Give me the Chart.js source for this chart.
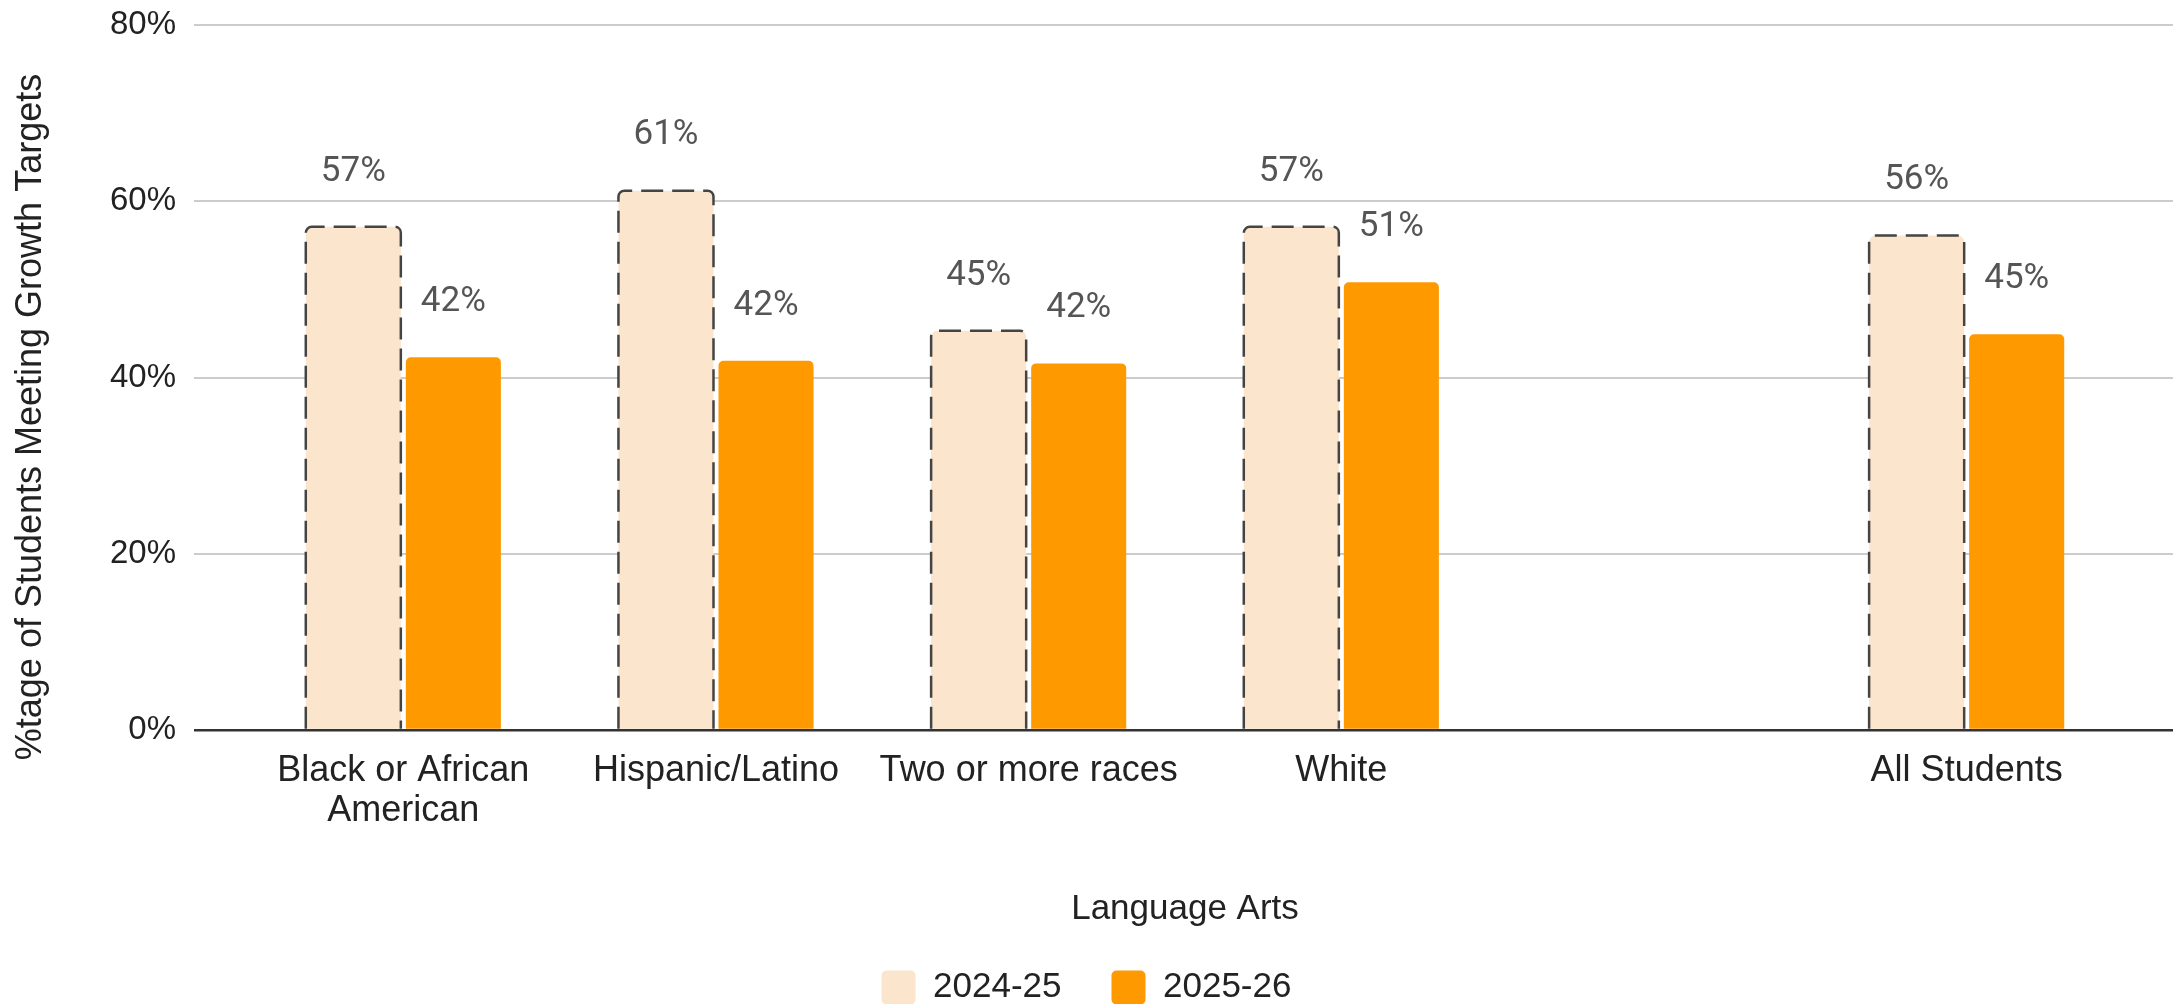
<!DOCTYPE html>
<html>
<head>
<meta charset="utf-8">
<script src="https://cdn.jsdelivr.net/npm/chart.js@4.4.1/dist/chart.umd.min.js"></script>
<style>
  html, body { margin: 0; padding: 0; background: #ffffff; }
  #wrap { width: 2173px; height: 1004px; position: relative; }
</style>
</head>
<body>
<div id="wrap"><canvas id="myChart"></canvas></div>
<script>
  const categories = [["Black or African", "American"], "Hispanic/Latino", "Two or more races", "White", "", "All Students"];
  const seriesNames = ["2024-25", "2025-26"];
  const values2425 = [57.1, 61.2, 45.3, 57.1, null, 56.1];
  const values2526 = [42.3, 41.9, 41.6, 50.8, null, 44.9];
  const yTicks = [0, 20, 40, 60, 80];
  const xTitle = "Language Arts";
  const yTitle = "%tage of Students Meeting Growth Targets";

  const lightOrange = "#fce5cd";
  const orange = "#ff9900";
  const sans = "'Liberation Sans', Arial, sans-serif";

  // dashed outline round the 2024-25 bars (bar elements can't dash their border)
  const dashedBars = {
    id: "dashedBars",
    afterDatasetsDraw(chart) {
      const ctx = chart.ctx;
      const meta = chart.getDatasetMeta(0);
      ctx.save();
      ctx.strokeStyle = "#444444";
      ctx.lineWidth = 2.5;
      ctx.setLineDash([22, 9]);
      meta.data.forEach((bar, i) => {
        if (values2425[i] == null) return;
        const { x, y, base, width } = bar.getProps(["x", "y", "base", "width"], true);
        const left = x - width / 2;
        const right = x + width / 2;
        const r = 6;
        ctx.beginPath();
        ctx.moveTo(left, base);
        ctx.lineTo(left, y + r);
        ctx.arcTo(left, y, left + r, y, r);
        ctx.lineTo(right - r, y);
        ctx.arcTo(right, y, right, y + r, r);
        ctx.lineTo(right, base);
        ctx.stroke();
      });
      ctx.restore();
    },
  };

  // value labels above each bar
  const barLabels = {
    id: "barLabels",
    afterDatasetsDraw(chart) {
      const ctx = chart.ctx;
      ctx.save();
      ctx.font = "35px Roboto, sans-serif";
      ctx.fillStyle = "#555555";
      ctx.textAlign = "center";
      ctx.textBaseline = "middle";
      chart.data.datasets.forEach((ds, d) => {
        chart.getDatasetMeta(d).data.forEach((bar, i) => {
          const v = ds.data[i];
          if (v == null) return;
          ctx.fillText(Math.round(v) + "%", bar.x, bar.y - 55);
        });
      });
      ctx.restore();
    },
  };

  // y axis title, centred lower than the plot like the original
  const yTitlePlugin = {
    id: "yTitle",
    afterDraw(chart) {
      const ctx = chart.ctx;
      ctx.save();
      ctx.translate(31, 417);
      ctx.rotate(-Math.PI / 2);
      ctx.font = "36px " + sans;
      ctx.fillStyle = "#222222";
      ctx.textAlign = "center";
      ctx.textBaseline = "middle";
      ctx.fillText(yTitle, 0, 0);
      ctx.restore();
    },
  };

  const gridColor = (c) => (c.tick && c.tick.value === 0 ? "#333333" : "#cccccc");
  const gridWidth = (c) => (c.tick && c.tick.value === 0 ? 2.5 : 2);

  new Chart(document.getElementById("myChart"), {
    type: "bar",
    data: {
      labels: categories,
      datasets: [
        {
          label: seriesNames[0],
          data: values2425,
          backgroundColor: lightOrange,
          borderWidth: 0,
          borderRadius: 6,
          borderSkipped: "start",
          categoryPercentage: 0.64,
          barPercentage: 0.95,
        },
        {
          label: seriesNames[1],
          data: values2526,
          backgroundColor: orange,
          borderWidth: 0,
          borderRadius: 5,
          borderSkipped: "start",
          categoryPercentage: 0.64,
          barPercentage: 0.95,
        },
      ],
    },
    options: {
      responsive: true,
      maintainAspectRatio: false,
      animation: false,
      layout: {
        padding: { top: 25, left: 0, right: 0, bottom: -11 },
      },
      scales: {
        x: {
          offset: true,
          grid: { display: false, drawTicks: false },
          border: { display: false },
          ticks: {
            autoSkip: false,
            maxRotation: 0,
            padding: 22,
            color: "#222222",
            font: { family: sans, size: 36, lineHeight: 1.085 },
          },
          title: {
            display: true,
            text: xTitle,
            color: "#222222",
            font: { family: sans, size: 35, lineHeight: 1.2 },
            padding: { top: 0, bottom: -10 },
          },
          afterFit(scale) {
            scale.height = 190;
          },
        },
        y: {
          min: 0,
          max: 80,
          border: { display: false },
          grid: {
            color: gridColor,
            lineWidth: gridWidth,
            tickLength: 53,
          },
          ticks: {
            padding: 18,
            color: "#222222",
            font: { family: sans, size: 33 },
            callback: (v) => v + "%",
          },
          afterBuildTicks(axis) {
            axis.ticks = yTicks.map((v) => ({ value: v }));
          },
          afterFit(scale) {
            scale.width = 247;
            scale.paddingTop = 0;
            scale.paddingBottom = 0;
          },
        },
        y2: {
          position: "right",
          min: 0,
          max: 80,
          border: { display: false },
          grid: {
            color: gridColor,
            lineWidth: gridWidth,
            drawOnChartArea: false,
            tickLength: 50,
          },
          ticks: { display: false },
          afterBuildTicks(axis) {
            axis.ticks = yTicks.map((v) => ({ value: v }));
          },
          afterFit(scale) {
            scale.width = 50;
            scale.paddingTop = 0;
            scale.paddingBottom = 0;
          },
        },
      },
      plugins: {
        legend: {
          display: true,
          position: "bottom",
          labels: {
            boxWidth: 34,
            boxHeight: 34,
            padding: 50,
            useBorderRadius: true,
            borderRadius: 5,
            color: "#222222",
            font: { family: sans, size: 35 },
          },
        },
        tooltip: { enabled: false },
      },
    },
    plugins: [dashedBars, barLabels, yTitlePlugin],
  });
</script>
</body>
</html>
